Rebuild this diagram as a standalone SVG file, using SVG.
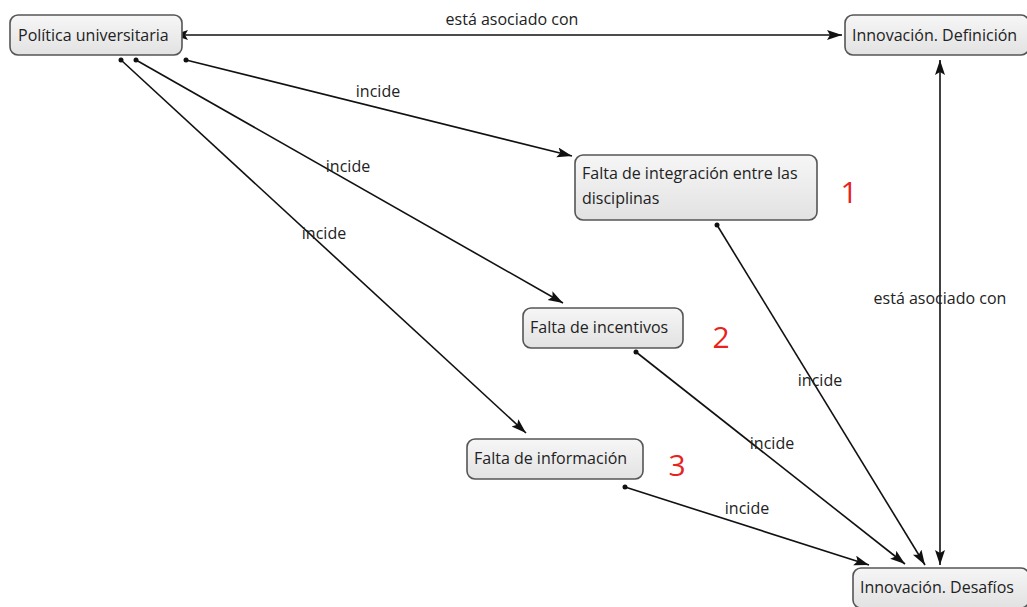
<svg xmlns="http://www.w3.org/2000/svg" width="1027" height="607" viewBox="0 0 1027 607">
<style>
.box{fill:url(#g);stroke:#555;stroke-width:1.6}
.t{font-family:"Open Sans","Noto Sans",sans-serif;font-size:16px;fill:#222}
.lbl{font-family:"Open Sans","Noto Sans",sans-serif;font-size:16px;fill:#222;text-anchor:middle}
.num{font-family:"Open Sans","Noto Sans",sans-serif;font-size:30px;fill:#e8231b;text-anchor:middle}
.c{stroke:#111;stroke-width:1.6;fill:none}
.d{fill:#111}
</style>
<defs>
<linearGradient id="g" x1="0" y1="0" x2="0" y2="1">
<stop offset="0" stop-color="#f6f6f6"/>
<stop offset="1" stop-color="#e2e2e2"/>
</linearGradient>
<marker id="a" markerUnits="userSpaceOnUse" markerWidth="16" markerHeight="12" refX="15" refY="5" orient="auto-start-reverse">
<path d="M0,0 L15,5 L0,10 L3,5 Z" fill="#111"/>
</marker>
</defs>
<rect width="1027" height="607" fill="#fff"/>
<g id="connectors">
<line class="c" x1="173" y1="35" x2="842" y2="35" marker-start="url(#a)" marker-end="url(#a)"/>
<line class="c" x1="940" y1="60" x2="940" y2="565" marker-start="url(#a)" marker-end="url(#a)"/>
<line class="c" x1="186" y1="60" x2="572" y2="156" marker-end="url(#a)"/>
<circle class="d" cx="186" cy="60" r="2.5"/>
<line class="c" x1="136" y1="60" x2="563" y2="303" marker-end="url(#a)"/>
<circle class="d" cx="136" cy="60" r="2.5"/>
<line class="c" x1="121" y1="60" x2="526" y2="433" marker-end="url(#a)"/>
<circle class="d" cx="121" cy="60" r="2.5"/>
<line class="c" x1="717" y1="225" x2="925" y2="565" marker-end="url(#a)"/>
<circle class="d" cx="717" cy="225" r="2.5"/>
<line class="c" x1="636" y1="352" x2="905" y2="564" marker-end="url(#a)"/>
<circle class="d" cx="636" cy="352" r="2.5"/>
<line class="c" x1="625" y1="487" x2="869" y2="565" marker-end="url(#a)"/>
<circle class="d" cx="625" cy="487" r="2.5"/>
<text class="lbl" x="512" y="25">está asociado con</text>
<text class="lbl" x="940" y="304">está asociado con</text>
<text class="lbl" x="378" y="97">incide</text>
<text class="lbl" x="348" y="172">incide</text>
<text class="lbl" x="324" y="239">incide</text>
<text class="lbl" x="820" y="386">incide</text>
<text class="lbl" x="772" y="449">incide</text>
<text class="lbl" x="747" y="514">incide</text>
</g>
<g id="n1"><rect class="box" x="10" y="15" width="172" height="40" rx="8"/><text class="t" x="18" y="41">Política universitaria</text></g>
<g id="n2"><rect class="box" x="845" y="15" width="184" height="40" rx="8"/><text class="t" x="852" y="41">Innovación. Definición</text></g>
<g id="n3"><rect class="box" x="575" y="155" width="242" height="65" rx="8"/><text class="t" x="582" y="179">Falta de integración entre las</text><text class="t" x="582" y="204">disciplinas</text></g>
<g id="n4"><rect class="box" x="523" y="308" width="160" height="40" rx="8"/><text class="t" x="530" y="333">Falta de incentivos</text></g>
<g id="n5"><rect class="box" x="467" y="439" width="176" height="40" rx="8"/><text class="t" x="474" y="464">Falta de información</text></g>
<g id="n6"><rect class="box" x="853" y="568" width="176" height="40" rx="8"/><text class="t" x="860" y="593">Innovación. Desafíos</text></g>
<text class="num" x="849" y="203">1</text>
<text class="num" x="721" y="348">2</text>
<text class="num" x="677" y="476">3</text>
</svg>
